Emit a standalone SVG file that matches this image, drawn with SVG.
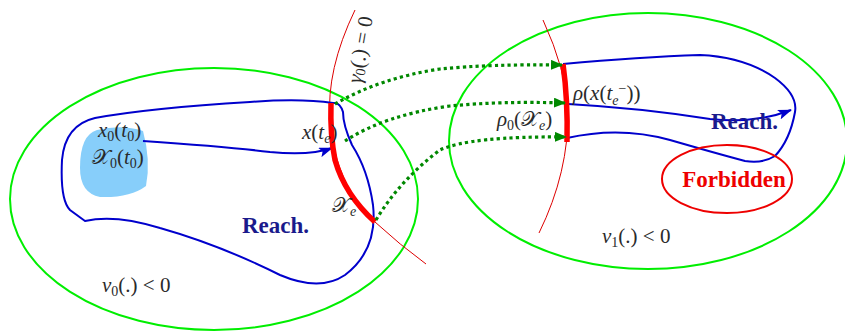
<svg xmlns="http://www.w3.org/2000/svg" width="845" height="333" viewBox="0 0 845 333">
<style>
.math{font-family:"Liberation Serif","DejaVu Serif",serif;font-style:italic;font-size:21px;fill:#2a2a2a}
.up{font-style:normal}
.cal{font-style:normal;font-family:"DejaVu Sans","Noto Sans",serif}
.sub{font-size:14px}
.reach{font-family:"Liberation Serif","DejaVu Serif",serif;font-weight:bold;font-size:23px;fill:#1a1a8c}
.green{fill:none;stroke:#00ee00;stroke-width:2}
.blue{fill:none;stroke:#0000cc;stroke-width:2}
.thin{fill:none;stroke:#dd0000;stroke-width:1}
.thick{fill:none;stroke:#ff0000;stroke-width:5.5}
.dot{fill:none;stroke:#008800;stroke-width:3.2;stroke-dasharray:3.2,3.2}
</style>
<defs>
<marker id="ga" markerWidth="12" markerHeight="10" refX="11" refY="5" orient="auto" markerUnits="userSpaceOnUse"><path d="M0,0 L12,5 L0,10 Z" fill="#008800"/></marker>
<marker id="ba" markerWidth="14" markerHeight="10" refX="13" refY="5" orient="auto" markerUnits="userSpaceOnUse"><path d="M0,0 L14,5 L0,10 L3,5 Z" fill="#0000cc"/></marker>
</defs>
<g id="region-left">
<ellipse class="green" cx="214" cy="199" rx="204" ry="131"/>
<path class="thin" d="M355,10 Q326,70 330,120 Q335,185 375,222 Q400,245 426,264"/>
<path class="blue" d="M333,103 Q300,98 250,102 Q150,108 95,118 Q65,125 62,160 Q60,200 70,210 L85,221 Q115,214 160,228 Q220,245 280,275 Q320,292 345,275 Q378,250 373,205 Q368,170 352,145 Q343,125 343,112 Q340,102 333,103 Z"/>
<path d="M97,130 Q122,124 143,131 Q151,160 146,186 Q130,198 100,197 Q80,193 80,168 Q80,135 97,130 Z" fill="#87cefa"/>
<path class="blue" d="M143,141 Q230,147 270,152 Q310,156 332,148" marker-end="url(#ba)"/>
<path class="thick" d="M331,103 Q330,135 335,160 Q345,195 375,222"/>
<text class="math" x="98" y="137">x<tspan class="sub up" dy="4">0</tspan><tspan class="up" dy="-4">(</tspan>t<tspan class="sub up" dy="4">0</tspan><tspan class="up" dy="-4">)</tspan></text>
<text class="math" x="92" y="164"><tspan class="cal">𝒳</tspan><tspan class="sub up" dy="4">0</tspan><tspan class="up" dy="-4">(</tspan>t<tspan class="sub up" dy="4">0</tspan><tspan class="up" dy="-4">)</tspan></text>
<text class="math" x="302" y="139">x<tspan class="up">(</tspan>t<tspan class="sub" dy="4">e</tspan><tspan class="up" dy="-4">)</tspan></text>
<text class="math" x="332" y="212"><tspan class="cal">𝒳</tspan><tspan class="sub" dy="4">e</tspan></text>
<text class="reach" x="242" y="233">Reach.</text>
<text class="math" x="102" y="292">ν<tspan class="sub up" dy="4">0</tspan><tspan class="up" dy="-4">(.) &lt; 0</tspan></text>
<text class="math" transform="translate(362,50) rotate(-80)" text-anchor="middle" dominant-baseline="middle">γ<tspan class="sub up" dy="4">0</tspan><tspan class="up" dy="-4">(.) = 0</tspan></text>
</g>
<g id="region-right">
<ellipse class="green" cx="648" cy="141" rx="199" ry="128"/>
<path class="thin" d="M543,20 Q566,70 568,110 Q569,172 539,233"/>
<path class="blue" d="M563,64 Q640,57 700,55 Q745,57 775,78 Q798,95 795,112 Q790,140 775,156 Q762,164 745,161 Q715,153 670,140 Q620,126 567,138"/>
<path class="blue" d="M568,104 Q640,108 710,119 Q755,124 791,110" marker-end="url(#ba)"/>
<path class="thick" d="M563,64 Q568,100 567,142"/>
<ellipse cx="727" cy="179" rx="65" ry="34" fill="none" stroke="#ee0000" stroke-width="2"/>
<text x="734" y="187" text-anchor="middle" font-family="Liberation Serif,DejaVu Serif,serif" font-weight="bold" font-size="23" fill="#ee0000">Forbidden</text>
<text class="reach" x="711" y="129">Reach.</text>
<text class="math" x="573" y="100">ρ<tspan class="up">(</tspan>x<tspan class="up">(</tspan>t<tspan class="sub" dy="5">e</tspan><tspan class="sub up" dy="-12">−</tspan><tspan class="up" dy="7">))</tspan></text>
<text class="math" x="497" y="126">ρ<tspan class="sub up" dy="4">0</tspan><tspan class="up" dy="-4">(</tspan><tspan class="cal">𝒳</tspan><tspan class="sub" dy="4">e</tspan><tspan class="up" dy="-4">)</tspan></text>
<text class="math" x="602" y="243">ν<tspan class="sub up" dy="4">1</tspan><tspan class="up" dy="-4">(.) &lt; 0</tspan></text>
</g>
<g id="connectors">
<path class="dot" d="M335,104 Q380,78 440,69 Q490,64 562,65" marker-end="url(#ga)"/>
<path class="dot" d="M345,141 Q385,115 450,106 Q500,101 565,103" marker-end="url(#ga)"/>
<path class="dot" d="M376,220 Q400,180 440,150 Q470,136 566,137" marker-end="url(#ga)"/>
</g>
</svg>
